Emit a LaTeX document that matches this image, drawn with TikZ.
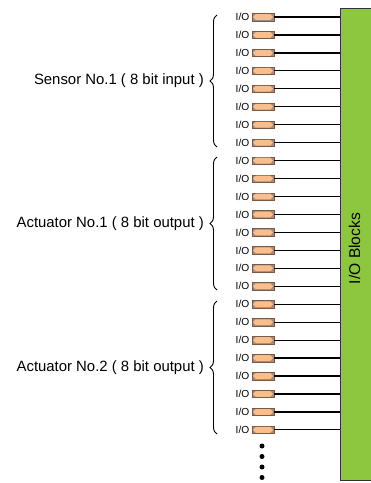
\documentclass[tikz,border=0pt]{standalone}
\usepackage{fontspec}
\setmainfont{Liberation Sans}
\usetikzlibrary{decorations.pathreplacing,calc}
\definecolor{blkgreen}{RGB}{141,198,63}
\definecolor{padfill}{RGB}{249,190,140}
\definecolor{padedge}{RGB}{120,90,70}
\tikzset{
  x=1pt, y=-1pt,
  iolabel/.style={font=\fontsize{10.2}{11}\selectfont, inner sep=0pt, anchor=east},
  padbox/.style={draw=padedge, fill=padedge!70, line width=0.5pt, minimum width=22pt, minimum height=7.5pt, inner sep=0pt},
  wire/.style={draw=black, line width=1.2pt},
  grouplabel/.style={font=\fontsize{14.9}{17}\selectfont, inner sep=0pt, anchor=east},
  bracestyle/.style={draw=black, line width=0.9pt, decorate, decoration={brace, amplitude=7pt, aspect=0.5}},
  dotstyle/.style={circle, fill=black, inner sep=0pt, minimum size=5pt}
}
\begin{document}
\begin{tikzpicture}
\useasboundingbox (0,0) rectangle (371,483);
\node[draw=black!80, fill=blkgreen, line width=0.8pt, minimum width=31pt, minimum height=472pt, inner sep=0pt, anchor=north west] (blk) at (339.5,8) {};
\node[rotate=90, font=\fontsize{15.6}{17}\selectfont, inner sep=0pt] (blklabel) at (354.5,248.5) {I/O Blocks};
\foreach \i in {1,...,24} {
  \pgfmathsetmacro{\yy}{17+(\i-1)*17.95}
  \node[padbox] (p\i) at (263,\yy) {};
  \fill[padfill] ($(p\i.west)+(1.2,0)$) -- ($(p\i.west)+(4,-2.9)$) -- ($(p\i.east)+(-4,-2.9)$) -- ($(p\i.east)+(-1.2,0)$) -- ($(p\i.east)+(-4,2.9)$) -- ($(p\i.west)+(4,2.9)$) -- cycle;
  \node[iolabel] (l\i) at (249.5,\yy) {I/O};
  \draw[wire] (p\i.east) -- (p\i.east -| blk.west);
}
\coordinate (b1t) at (217,15); \coordinate (b1b) at (217,147);
\coordinate (b2t) at (217,157); \coordinate (b2b) at (217,290);
\coordinate (b3t) at (217,301); \coordinate (b3b) at (217,434);
\draw[bracestyle] (b1b) -- (b1t);
\draw[bracestyle] (b2b) -- (b2t);
\draw[bracestyle] (b3b) -- (b3t);
\node[grouplabel] (g1) at (204,81) {Sensor No.1 ( 8 bit input )};
\node[grouplabel] (g2) at (204,223.5) {Actuator No.1 ( 8 bit output )};
\node[grouplabel] (g3) at (204,367.5) {Actuator No.2 ( 8 bit output )};
\foreach \k/\yy in {1/446,2/456.5,3/467,4/477.5} {
  \node[dotstyle] (d\k) at (262,\yy) {};
}
\end{tikzpicture}
\end{document}
